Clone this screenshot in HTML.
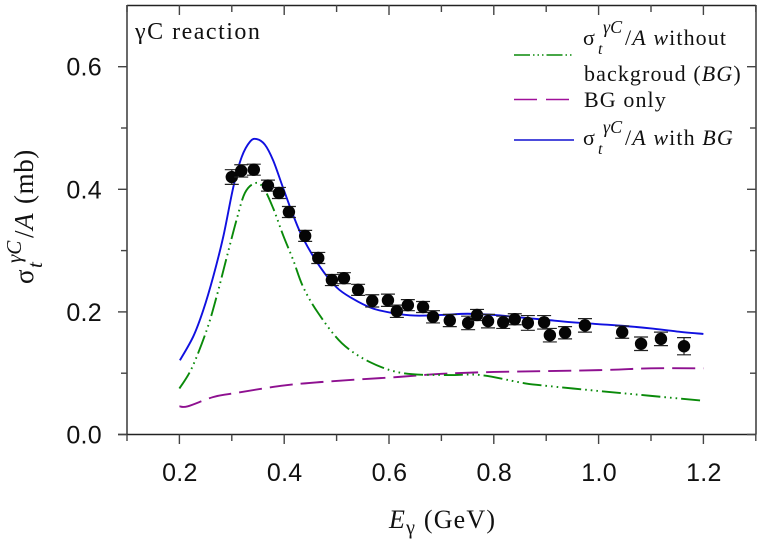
<!DOCTYPE html>
<html>
<head>
<meta charset="utf-8">
<style>
html,body{margin:0;padding:0;background:#fff;}
svg{display:block;}
text{font-family:"Liberation Serif",serif;fill:#111;}
.tick{font-family:"Liberation Sans",sans-serif;font-size:25px;letter-spacing:0.3px;}
.it{font-style:italic;}
</style>
</head>
<body>
<svg id="chart" width="763" height="545" viewBox="0 0 763 545" xmlns="http://www.w3.org/2000/svg">
  <g id="axes"></g>
  <g id="series"></g>
  <g id="points"></g>

  <text x="135" y="39" font-size="24" letter-spacing="1.5">γC reaction</text>

  <g>
    <text transform="translate(33,284) rotate(-90)" font-size="27">σ</text>
    <text class="it" transform="translate(42,268) rotate(-90)" font-size="21">t</text>
    <text class="it" transform="translate(21,263) rotate(-90)" font-size="21">γC</text>
    <text transform="translate(33,238) rotate(-90)" font-size="27" letter-spacing="0.6">/<tspan class="it">A</tspan></text>
    <text transform="translate(33,204) rotate(-90)" font-size="27" letter-spacing="0.6">(mb)</text>
  </g>

  <text x="389" y="528" font-size="26" letter-spacing="1.2"><tspan class="it">E</tspan><tspan font-size="20" dy="6">γ</tspan><tspan dy="-6"> (GeV)</tspan></text>

  <g>
    <g>
      <line x1="514" y1="55" x2="572" y2="55" stroke="#0a8a0a" stroke-width="1.6" stroke-dasharray="16 3 1.5 3 1.5 3 1.5 3"/>
      <text x="583" y="45" font-size="22">σ</text>
      <text class="it" x="598" y="54" font-size="16">t</text>
      <text class="it" x="603" y="33" font-size="18">γC</text>
      <text x="625" y="45" font-size="22" letter-spacing="1.1">/<tspan class="it">A</tspan> <tspan class="it">w</tspan>ithout</text>
      <text x="584" y="81" font-size="22" letter-spacing="1.1">backgroud (<tspan class="it">BG</tspan>)</text>
    </g>
    <g>
      <line x1="514" y1="99.5" x2="570" y2="99.5" stroke="#a0109a" stroke-width="1.6" stroke-dasharray="23 9"/>
      <text x="584" y="107" font-size="22" letter-spacing="1.1">BG only</text>
    </g>
    <g>
      <line x1="514" y1="140" x2="574" y2="140" stroke="#1010d0" stroke-width="1.6"/>
      <text x="583" y="145" font-size="22">σ</text>
      <text class="it" x="598" y="154" font-size="16">t</text>
      <text class="it" x="603" y="133" font-size="18">γC</text>
      <text x="625" y="145" font-size="22" letter-spacing="1.1">/<tspan class="it">A</tspan> <tspan class="it">w</tspan>ith <tspan class="it">BG</tspan></text>
    </g>
  </g>
</svg>
<script>
var xTickValues = [0.1,0.2,0.3,0.4,0.5,0.6,0.7,0.8,0.9,1.0,1.1,1.2,1.3];
var xTickLabels = ['','0.2','','0.4','','0.6','','0.8','','1.0','','1.2',''];
var yTickValues = [0.0,0.1,0.2,0.3,0.4,0.5,0.6];
var yTickLabels = ['0.0','','0.2','','0.4','','0.6'];

var pointE = [0.300,0.318,0.342,0.369,0.390,0.409,0.440,0.465,0.491,0.514,0.541,0.568,0.598,0.615,0.636,0.665,0.684,0.716,0.751,0.768,0.789,0.818,0.840,0.865,0.896,0.907,0.936,0.974,1.045,1.081,1.119,1.163];
var pointSigma = [0.420,0.430,0.432,0.406,0.394,0.363,0.324,0.288,0.252,0.255,0.236,0.218,0.219,0.201,0.211,0.208,0.192,0.186,0.182,0.195,0.185,0.183,0.188,0.182,0.183,0.162,0.166,0.178,0.167,0.148,0.156,0.144];
var pointError = [0.012,0.010,0.009,0.009,0.009,0.009,0.009,0.009,0.009,0.009,0.009,0.010,0.010,0.010,0.009,0.009,0.010,0.010,0.011,0.009,0.011,0.010,0.009,0.012,0.011,0.011,0.010,0.011,0.010,0.011,0.011,0.014];

var withBgE = [0.201,0.2265,0.2456,0.2647,0.2838,0.303,0.319,0.335,0.3475,0.363,0.379,0.398,0.417,0.436,0.468,0.50,0.53,0.568,0.608,0.65,0.70,0.75,0.80,0.85,0.90,0.95,1.0,1.05,1.1,1.15,1.2];
var withBgSigma = [0.121,0.160,0.203,0.258,0.323,0.404,0.453,0.478,0.482,0.473,0.447,0.402,0.358,0.320,0.274,0.240,0.222,0.206,0.198,0.194,0.195,0.197,0.195,0.191,0.187,0.183,0.180,0.177,0.173,0.168,0.164];

var withoutBgE = [0.2,0.2235,0.252,0.271,0.290,0.309,0.325,0.344,0.360,0.379,0.398,0.417,0.436,0.465,0.51,0.564,0.627,0.71,0.774,0.85,0.882,1.0,1.1,1.2];
var withoutBgSigma = [0.075,0.108,0.170,0.225,0.288,0.350,0.394,0.410,0.403,0.369,0.325,0.285,0.241,0.198,0.149,0.118,0.100,0.097,0.097,0.085,0.081,0.071,0.063,0.055];

var bgOnlyE = [0.2,0.216,0.264,0.302,0.4,0.493,0.62,0.7,0.8,1.0,1.1,1.2];
var bgOnlySigma = [0.046,0.046,0.061,0.067,0.080,0.087,0.094,0.099,0.102,0.105,0.108,0.108];

function xScale(v){ return 127 + (v - 0.1) * 524; }
function yScale(v){ return 434.5 - v * 613; }

var NS = 'http://www.w3.org/2000/svg';
function make(tag, attrs, parent){
  var el = document.createElementNS(NS, tag);
  for (var k in attrs) el.setAttribute(k, attrs[k]);
  parent.appendChild(el);
  return el;
}

var axes = document.getElementById('axes');
var seriesGroup = document.getElementById('series');
var pointsGroup = document.getElementById('points');

var frame = [
  ['axis-left', 127, 5, 127, 434.5, '#444'],
  ['axis-right', 756, 5, 756, 434.5, '#444'],
  ['axis-top', 127, 5.5, 756, 5.5, '#222'],
  ['axis-bottom', 118, 434.5, 756, 434.5, '#222']
];
frame.forEach(function(f){
  var l = make('line', {x1:f[1], y1:f[2], x2:f[3], y2:f[4], stroke:f[5], 'stroke-width':1.6}, axes);
  
  
});

xTickValues.forEach(function(v, i){
  var x = xScale(v);
  var major = xTickLabels[i] !== '';
  var b = make('line', {x1:x, y1:434.5, x2:x, y2:major ? 444 : 441, stroke:'#444', 'stroke-width':1.4}, axes);
  
  
  var t = make('line', {x1:x, y1:5, x2:x, y2:major ? 15 : 12, stroke:'#444', 'stroke-width':1.4}, axes);
  
  
  if (major) {
    var lab = make('text', {x:x + 0.5, y:481, 'text-anchor':'middle', 'class':'tick'}, axes);
    
    
    lab.textContent = xTickLabels[i];
  }
});

yTickValues.forEach(function(v, i){
  var y = yScale(v);
  var major = yTickLabels[i] !== '';
  var l = make('line', {x1:major ? 118 : 121, y1:y, x2:127, y2:y, stroke:'#444', 'stroke-width':1.4}, axes);
  
  
  var r = make('line', {x1:756, y1:y, x2:major ? 747 : 750, y2:y, stroke:'#444', 'stroke-width':1.4}, axes);
  
  
  if (major) {
    var lab = make('text', {x:102, y:y + 9, 'text-anchor':'end', 'class':'tick'}, axes);
    
    
    lab.textContent = yTickLabels[i];
  }
});

function smoothPath(xs, ys){
  var p = xs.map(function(v, i){ return [xScale(v), yScale(ys[i])]; });
  var d = 'M' + p[0][0].toFixed(2) + ' ' + p[0][1].toFixed(2);
  for (var i = 0; i < p.length - 1; i++) {
    var a = p[Math.max(0, i - 1)], b = p[i], c = p[i + 1], e = p[Math.min(p.length - 1, i + 2)];
    var c1x = b[0] + (c[0] - a[0]) / 6, c1y = b[1] + (c[1] - a[1]) / 6;
    var c2x = c[0] - (e[0] - b[0]) / 6, c2y = c[1] - (e[1] - b[1]) / 6;
    d += 'C' + c1x.toFixed(2) + ' ' + c1y.toFixed(2) + ' ' + c2x.toFixed(2) + ' ' + c2y.toFixed(2) + ' ' + c[0].toFixed(2) + ' ' + c[1].toFixed(2);
  }
  return d;
}

var bgPath = make('path', {d:smoothPath(bgOnlyE, bgOnlySigma), fill:'none', stroke:'#8e1090', 'stroke-width':1.9, 'stroke-dasharray':'23 8'}, seriesGroup);



var greenPath = make('path', {d:smoothPath(withoutBgE, withoutBgSigma), fill:'none', stroke:'#0a8a0a', 'stroke-width':1.9, 'stroke-dasharray':'19 4 1.6 4 1.6 4 1.6 4'}, seriesGroup);



var bluePath = make('path', {d:smoothPath(withBgE, withBgSigma), fill:'none', stroke:'#1010e0', 'stroke-width':1.9}, seriesGroup);



pointE.forEach(function(v, i){
  var x = xScale(v), y = yScale(pointSigma[i]);
  var top = yScale(pointSigma[i] + pointError[i]), bot = yScale(pointSigma[i] - pointError[i]);
  var d = 'M' + x + ' ' + top + 'V' + bot + 'M' + (x - 7) + ' ' + top + 'h14M' + (x - 7) + ' ' + bot + 'h14';
  var err = make('path', {d:d, fill:'none', stroke:'#222', 'stroke-width':1.2}, pointsGroup);
  
  
  var c = make('circle', {cx:x, cy:y, r:6.2, fill:'#050505'}, pointsGroup);
  
  
});
</script>
</body>
</html>
